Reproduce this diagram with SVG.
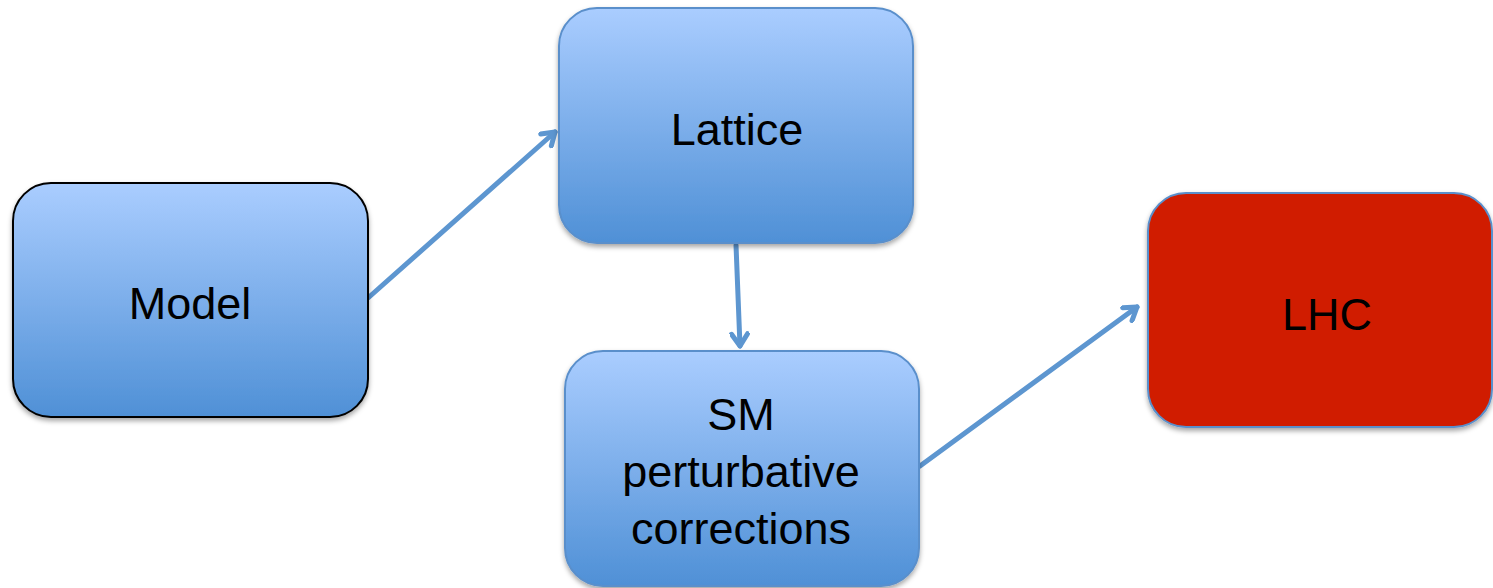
<svg xmlns="http://www.w3.org/2000/svg" width="1493" height="588" viewBox="0 0 1493 588">
<style>
.lbl{font-family:"Liberation Sans",Arial,sans-serif;font-size:45px;fill:#000;text-anchor:middle}
.blue{fill:url(#g);stroke:#5a8fcb;stroke-width:2}
.edge{fill:none;stroke:#5d96d0;stroke-width:5;stroke-linecap:round}
</style>
<defs>
<linearGradient id="g" x1="0" y1="0" x2="0" y2="1">
<stop offset="0" stop-color="#aacdff"/>
<stop offset="1" stop-color="#4f90d6"/>
</linearGradient>
<filter id="sh" x="-10%" y="-10%" width="120%" height="125%">
<feDropShadow dx="0" dy="3" stdDeviation="2.5" flood-color="#000" flood-opacity="0.35"/>
</filter>
<marker id="ah" viewBox="-15 -10 18 20" refX="0" refY="0" markerWidth="18" markerHeight="20" markerUnits="userSpaceOnUse" orient="auto">
<path d="M-12,-8 L0,0 L-12,8" fill="none" stroke="#5d96d0" stroke-width="5" stroke-linecap="round" stroke-linejoin="round"/>
</marker>
</defs>
<g id="connectors">
<line class="edge" x1="368" y1="298" x2="555" y2="132" marker-end="url(#ah)"/>
<line class="edge" x1="736" y1="245" x2="740" y2="346" marker-end="url(#ah)"/>
<line class="edge" x1="920" y1="466" x2="1137" y2="307" marker-end="url(#ah)"/>
</g>
<g id="model">
<rect x="13" y="183" width="355" height="234" rx="38" fill="url(#g)" stroke="#000" stroke-width="2" filter="url(#sh)"/>
<text class="lbl" x="190" y="319">Model</text>
</g>
<g id="lattice">
<rect class="blue" x="559" y="8" width="354" height="235" rx="38" filter="url(#sh)"/>
<text class="lbl" x="737" y="145">Lattice</text>
</g>
<g id="sm">
<rect class="blue" x="565" y="351" width="354" height="235" rx="38" filter="url(#sh)"/>
<text class="lbl" x="741" y="430">SM</text>
<text class="lbl" x="741" y="487">perturbative</text>
<text class="lbl" x="741" y="544">corrections</text>
</g>
<g id="lhc">
<rect x="1148" y="193" width="344" height="234" rx="38" fill="#d01f00" stroke="#5a8fcb" stroke-width="2" filter="url(#sh)"/>
<text class="lbl" x="1327" y="330">LHC</text>
</g>
</svg>
